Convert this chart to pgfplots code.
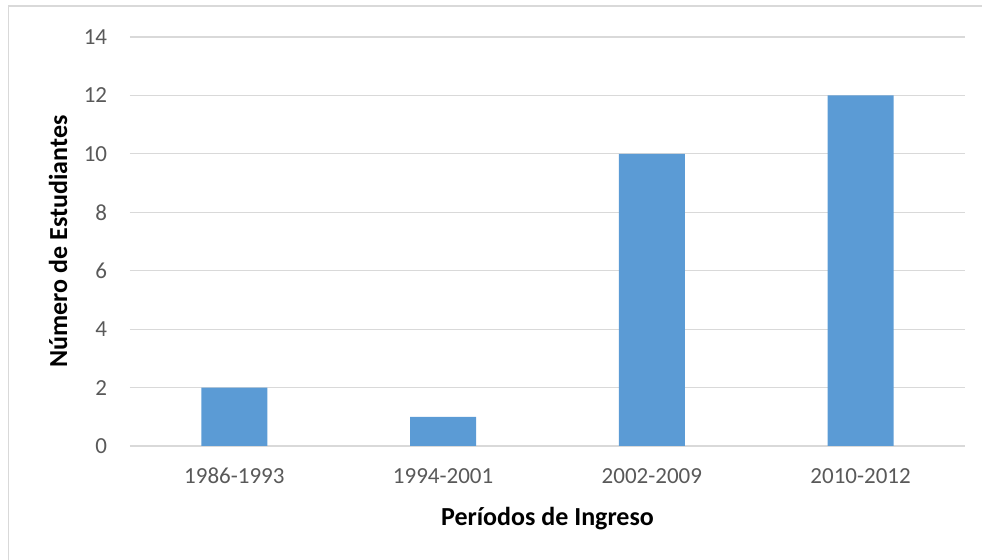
\documentclass[border=0pt]{standalone}
\usepackage{pgfplots}
\pgfplotsset{compat=1.18}
\usepackage{fontspec}
\setmainfont{Carlito}
\definecolor{barblue}{HTML}{5B9BD5}
\definecolor{gridgray}{HTML}{D9D9D9}
\definecolor{ticktext}{HTML}{595959}
\begin{document}
\begin{tikzpicture}
\useasboundingbox (-97.5pt,-85.5pt) rectangle (639pt,334.5pt);
\draw[gridgray, line width=1.2pt] (-91pt,-85.5pt) -- (-91pt,330pt) -- (639pt,330pt);
\begin{axis}[
  at={(0pt,0pt)}, anchor=south west,
  scale only axis, width=626.25pt, height=306.75pt,
  ymin=0, ymax=14, ytick={0,2,...,14},
  xmin=-0.5, xmax=3.5, xtick={0,1,2,3},
  xticklabels={1986-1993,1994-2001,2002-2009,2010-2012},
  /pgf/number format/assume math mode=true,
  axis line style={draw=none},
  major tick length=0pt,
  ymajorgrids, grid style={gridgray, line width=0.9pt},
  tick label style={font=\fontsize{17.25}{20}\selectfont, text=ticktext},
  yticklabel style={inner sep=0pt, xshift=-17pt},
  xticklabel style={inner sep=0pt, yshift=-16.5pt},
  xlabel={Períodos de Ingreso},
  ylabel={Número de Estudiantes},
  label style={font=\bfseries\fontsize{19.5}{22}\selectfont, text=black},
  xlabel style={at={(axis description cs:0.5,-0.178)}, anchor=center},
  ylabel style={at={(axis description cs:-0.0862,0.5)}, anchor=center},
  ybar, bar width=49.5pt,
]
\addplot[fill=barblue, draw=none] coordinates {(0,2) (1,1) (2,10) (3,12)};
\end{axis}
\end{tikzpicture}
\end{document}
